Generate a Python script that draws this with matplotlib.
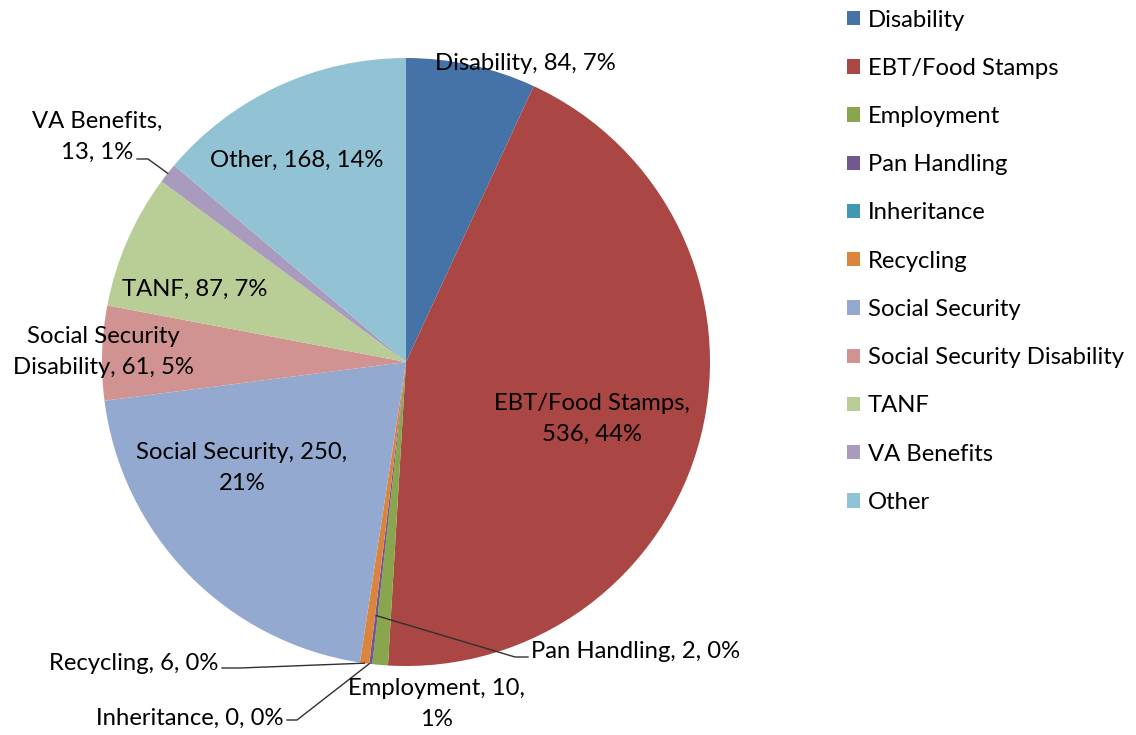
import matplotlib
matplotlib.use("Agg")
import matplotlib.pyplot as plt
import numpy as np

categories = ["Disability", "EBT/Food Stamps", "Employment", "Pan Handling", "Inheritance",
              "Recycling", "Social Security", "Social Security Disability", "TANF",
              "VA Benefits", "Other"]
values = [84, 536, 10, 2, 0, 6, 250, 61, 87, 13, 168]
percents = ["7%", "44%", "1%", "0%", "0%", "0%", "21%", "5%", "7%", "1%", "14%"]
colors = ["#4572A7", "#AA4643", "#89A54E", "#71588F", "#4198AF", "#DB843D",
          "#93A9CF", "#D19392", "#B9CD96", "#A99BBD", "#92C3D5"]

plt.rcParams['font.family'] = ['Lato', 'DejaVu Sans']
FS = 17.2

W, H = 1136, 735
fig = plt.figure(figsize=(W / 100, H / 100), dpi=100)
ax = fig.add_axes([0, 0, 1, 1])

cx, cy, R = 406, H - 362, 304
wedges, _ = ax.pie(values, colors=colors, startangle=90, counterclock=False,
                   center=(cx, cy), radius=R, wedgeprops=dict(linewidth=0))
ax.set_xlim(0, W)
ax.set_ylim(0, H)
ax.set_aspect('equal')
ax.axis('off')

def Y(y):
    return H - y

def lab(i):
    return f"{categories[i]}, {values[i]}, {percents[i]}"

def mid_point(i, frac=1.0):
    w = wedges[i]
    a = np.deg2rad((w.theta1 + w.theta2) / 2)
    return cx + R * frac * np.cos(a), cy + R * frac * np.sin(a)

LS = 1.55
# inside labels
ax.text(525, Y(63), lab(0), ha='center', va='center', fontsize=FS)
ax.text(592, Y(419), "EBT/Food Stamps,\n536, 44%", ha='center', va='center', fontsize=FS, linespacing=LS)
ax.text(297, Y(160), lab(10), ha='center', va='center', fontsize=FS)
ax.text(195, Y(289), lab(8), ha='center', va='center', fontsize=FS)
ax.text(103, Y(352), "Social Security\nDisability, 61, 5%", ha='center', va='center', fontsize=FS, linespacing=LS)
ax.text(242, Y(468), "Social Security, 250,\n21%", ha='center', va='center', fontsize=FS, linespacing=LS)
ax.text(436, Y(704), "Employment, 10,\n1%", ha='center', va='center', fontsize=FS, linespacing=LS)

# outside labels with leader lines
lc = dict(color='#303030', lw=1.0)
# VA Benefits
px, py = mid_point(9)
ax.text(97, Y(137), "VA Benefits,\n13, 1%", ha='center', va='center', fontsize=FS, linespacing=LS)
ax.plot([137, 148, px], [Y(159), Y(159), py], **lc)
# Recycling
px, py = mid_point(5)
ax.text(218, Y(664), lab(5), ha='right', va='center', fontsize=FS)
ax.plot([222, 240, px], [Y(668), Y(668), py], **lc)
# Inheritance
px, py = mid_point(4)
ax.text(283, Y(718), lab(4), ha='right', va='center', fontsize=FS)
ax.plot([287, 297, px], [Y(720), Y(720), py], **lc)
# Pan Handling
px, py = mid_point(3, 0.84)
ax.text(531, Y(651), lab(3), ha='left', va='center', fontsize=FS)
ax.plot([px, 515, 528], [py, Y(657), Y(657)], **lc)

# legend
leg = fig.legend(wedges, categories, loc='upper left', bbox_to_anchor=(837 / W, 1 - 0 / H),
                 frameon=False, fontsize=FS, handlelength=0.55, handleheight=0.55,
                 handletextpad=0.35, labelspacing=1.14, borderaxespad=0)

fig.savefig("out.png", dpi=100)
